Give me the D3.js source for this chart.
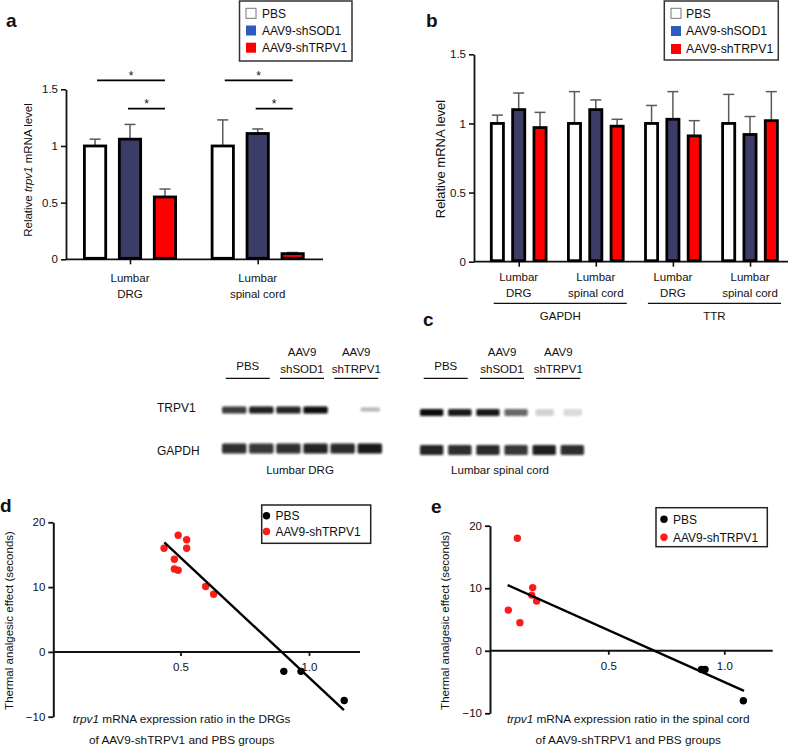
<!DOCTYPE html>
<html><head><meta charset="utf-8">
<script src="https://cdn.jsdelivr.net/npm/d3@7"></script>
<style>
body{margin:0;background:#fff}
svg{display:block}
text{font-family:"Liberation Sans",Arial,Helvetica,sans-serif;fill:#111}
</style>
</head><body><svg id="fig" width="794" height="746"></svg>
<script>
// ---------------- DATA ----------------
const seriesNames = ["PBS", "AAV9-shSOD1", "AAV9-shTRPV1"];
const barFill = ["#ffffff", "#3b3d66", "#ff0000"];
const legendFill = ["#ffffff", "#2d5cc0", "#ff0000"];

// panel a
const aGroups = [["Lumbar", "DRG"], ["Lumbar", "spinal cord"]];
const aMeans = [[1.00, 1.06, 0.55], [1.00, 1.11, 0.05]];
const aErr = [[0.06, 0.13, 0.07], [0.23, 0.04, 0.01]];
const aTicks = [0, 0.5, 1, 1.5];
const aTickLabels = ["0", "0.5", "1", "1.5"];
const aSig = [[0, 0, 2, 0], [0, 1, 2, 1], [1, 0, 2, 0], [1, 1, 2, 1]]; // group, fromSeries, toSeries, level

// panel b
const bGroups = [["Lumbar", "DRG"], ["Lumbar", "spinal cord"], ["Lumbar", "DRG"], ["Lumbar", "spinal cord"]];
const bGenes = ["GAPDH", "TTR"];
const bGeneGroups = [[0, 1], [2, 3]];
const bMeans = [[1.00, 1.10, 0.97], [1.00, 1.10, 0.98], [1.00, 1.03, 0.91], [1.00, 0.92, 1.02]];
const bErr = [[0.06, 0.12, 0.11], [0.23, 0.07, 0.05], [0.13, 0.20, 0.11], [0.21, 0.13, 0.21]];
const bTicks = [0, 0.5, 1, 1.5];
const bTickLabels = ["0", "0.5", "1", "1.5"];

// panel c (western blot band intensities, 2 lanes per group)
const blotTissues = ["Lumbar DRG", "Lumbar spinal cord"];
const blotGroups = [["PBS"], ["AAV9", "shSOD1"], ["AAV9", "shTRPV1"]];
const blotRows = ["TRPV1", "GAPDH"];
const trpv1Bands = [[0.80, 0.92, 0.90, 1.00, 0.00, 0.30], [1.00, 0.95, 0.95, 0.62, 0.18, 0.15]];
const gapdhBands = [[0.85, 0.82, 0.85, 0.90, 0.88, 0.95], [0.90, 0.86, 0.88, 0.82, 0.92, 0.86]];

// panel d
const dPBS = [[0.902, -3.0], [0.969, -3.0], [1.137, -7.5]];
const dTRPV1 = [[0.436, 16.0], [0.491, 18.0], [0.524, 17.3], [0.524, 16.0], [0.476, 14.3], [0.476, 12.8], [0.491, 12.6], [0.598, 10.1], [0.629, 8.9]];
const dFit = [[0.437, 16.9], [1.136, -9.0]];

// panel e
const ePBS = [[0.902, -3.0], [0.917, -3.0], [1.082, -8.0]];
const eTRPV1 = [[0.108, 18.0], [0.069, 6.5], [0.119, 4.5], [0.174, 10.1], [0.170, 8.9], [0.191, 7.95]];
const eFit = [[0.066, 10.5], [1.085, -6.4]];

const scatterYTicks = [-10, 0, 10, 20];
const scatterYTickLabels = ["\u221210", "0", "10", "20"];
const scatterXTicks = [0.5, 1.0];
const scatterXTickLabels = ["0.5", "1.0"];
const scatterSeries = ["PBS", "AAV9-shTRPV1"];
const scatterColors = ["#000000", "#ff1a1a"];

// ---------------- DRAW ----------------
const svg = d3.select("#fig");
const FS = 11.5;

function panelLabel(t, x, y) {
  svg.append("text").attr("x", x).attr("y", y).attr("font-size", 19).attr("font-weight", "bold").text(t);
}

function barLegend(x, y, w, h, sx, tx, rowY, fs) {
  const g = svg.append("g");
  g.append("rect").attr("x", x).attr("y", y).attr("width", w).attr("height", h)
    .attr("fill", "#fff").attr("stroke", "#333").attr("stroke-width", 1.5);
  seriesNames.forEach((s, i) => {
    g.append("rect").attr("x", sx).attr("y", rowY[i] - 5).attr("width", 10).attr("height", 10)
      .attr("fill", legendFill[i]).attr("stroke", i === 0 ? "#777" : "none").attr("stroke-width", 1);
    g.append("text").attr("x", tx).attr("y", rowY[i] + 4.3).attr("font-size", fs).text(s);
  });
}

function barPanel(opt) {
  const g = svg.append("g");
  const y = d3.scaleLinear().domain([0, 1.5]).range([opt.y0, opt.y15]);
  const x = d3.scalePoint().domain(d3.range(opt.groups.length)).range(opt.xCenters);
  const inner = d3.scaleBand().domain(d3.range(3)).range([-opt.half, opt.half]).paddingInner(opt.pad);
  const bw = inner.bandwidth();
  // y axis
  const ya = g.append("g").attr("transform", `translate(${opt.axisX},0)`)
    .call(d3.axisLeft(y).tickValues(opt.ticks).tickFormat((d, i) => opt.tickLabels[i]).tickSize(5).tickSizeOuter(0).tickPadding(3));
  ya.select(".domain").attr("stroke-width", 1.8).attr("stroke", "#111");
  ya.selectAll(".tick line").attr("stroke-width", 1.6).attr("stroke", "#111");
  ya.selectAll(".tick text").attr("font-size", FS).attr("font-family", "Liberation Sans, Arial, sans-serif").attr("fill", "#111");
  // x axis
  const xa = g.append("g").attr("transform", `translate(0,${opt.y0})`)
    .call(d3.axisBottom(x).tickSize(5).tickFormat(""));
  xa.select(".domain").remove();
  xa.selectAll(".tick line").attr("stroke-width", 1.6).attr("stroke", "#111");
  g.append("line").attr("x1", opt.axisX).attr("x2", opt.axisEnd).attr("y1", opt.y0).attr("y2", opt.y0)
    .attr("stroke", "#111").attr("stroke-width", 1.8);
  opt.groups.forEach((lbl, gi) => {
    lbl.forEach((l, li) => {
      g.append("text").attr("x", x(gi)).attr("y", opt.labelY + li * 15.5).attr("text-anchor", "middle")
        .attr("font-size", FS).text(l);
    });
    opt.means[gi].forEach((m, si) => {
      const bx = x(gi) + inner(si);
      const cx = bx + bw / 2;
      // error bar
      g.append("line").attr("x1", cx).attr("x2", cx).attr("y1", y(m)).attr("y2", y(m + opt.err[gi][si]))
        .attr("stroke", "#5a5a5a").attr("stroke-width", 1.5);
      g.append("line").attr("x1", cx - opt.cap).attr("x2", cx + opt.cap)
        .attr("y1", y(m + opt.err[gi][si])).attr("y2", y(m + opt.err[gi][si]))
        .attr("stroke", "#5a5a5a").attr("stroke-width", 1.5);
      g.append("rect").attr("x", bx + 1.4).attr("width", bw - 2.8)
        .attr("y", y(m)).attr("height", Math.max(0, y(0) - y(m) - 1))
        .attr("fill", barFill[si]).attr("stroke", "#000").attr("stroke-width", 2.8);
    });
  });
  // y label
  g.append("text").attr("transform", `translate(${opt.ylabX},${opt.ylabY}) rotate(-90)`)
    .attr("text-anchor", "middle").attr("font-size", opt.ylabFs).html(opt.ylab);
  return {x, y, inner, bw, g};
}

// ---- panel a ----
panelLabel("a", 6, 27);
barLegend(239.5, 1, 112.5, 60, 246, 262, [13.3, 30.5, 47.7], 12);
const A = barPanel({
  groups: aGroups, means: aMeans, err: aErr, ticks: aTicks, tickLabels: aTickLabels,
  y0: 259.3, y15: 89.3, xCenters: [130, 257.7], half: 47, pad: 0.31, axisX: 66, axisEnd: 323,
  labelY: 282, cap: 5.5, ylabX: 32, ylabY: 170, ylabFs: 11.5,
  ylab: 'Relative <tspan font-style="italic">trpv1</tspan> mRNA level'
});
aSig.forEach(([gi, s0, s1, lev]) => {
  const xa0 = A.x(gi) + A.inner(s0) + A.bw / 2 + (lev === 0 ? 2 : -2);
  const xa1 = A.x(gi) + A.inner(s1) + A.bw / 2;
  const ly = lev === 0 ? 80.3 : 108.7;
  A.g.append("line").attr("x1", xa0).attr("x2", xa1).attr("y1", ly).attr("y2", ly)
    .attr("stroke", "#000").attr("stroke-width", 1.8);
  A.g.append("text").attr("x", (xa0 + xa1) / 2).attr("y", ly - 0.5).attr("text-anchor", "middle")
    .attr("font-size", 12).text("*");
});

// ---- panel b ----
panelLabel("b", 426, 27);
barLegend(664.3, 1, 114, 59, 671, 686, [13.3, 31, 49], 12.3);
const B = barPanel({
  groups: bGroups, means: bMeans, err: bErr, ticks: bTicks, tickLabels: bTickLabels,
  y0: 261.7, y15: 54.3, xCenters: [518.7, 750], half: 28.8, pad: 0.3, axisX: 474, axisEnd: 788,
  labelY: 281, cap: 5.5, ylabX: 445, ylabY: 159, ylabFs: 13,
  ylab: 'Relative mRNA level'
});
bGenes.forEach((gn, i) => {
  const [g0, g1] = bGeneGroups[i];
  const x0 = B.x(g0) - 25, x1 = B.x(g1) + 31;
  B.g.append("line").attr("x1", x0).attr("x2", x1).attr("y1", 303.3).attr("y2", 303.3)
    .attr("stroke", "#111").attr("stroke-width", 1.3);
  B.g.append("text").attr("x", (x0 + x1) / 2).attr("y", 319.5).attr("text-anchor", "middle")
    .attr("font-size", FS).text(gn);
});

// ---- panel c (blot) ----
panelLabel("c", 423, 326);
const defs = svg.append("defs");
defs.append("filter").attr("id", "blur").attr("x", "-20%").attr("y", "-60%").attr("width", "140%").attr("height", "220%")
  .append("feGaussianBlur").attr("stdDeviation", 0.9);
const laneScales = [
  d3.scaleBand().domain(d3.range(6)).range([222, 382]).paddingInner(0.1),
  d3.scaleBand().domain(d3.range(6)).range([420, 584]).paddingInner(0.17)
];
const rowY = [[410, 448.5], [412.5, 450]];
const bandH = [7, 10];
blotRows.forEach((r, i) => {
  svg.append("text").attr("x", 157).attr("y", [411.8, 454.5][i]).attr("font-size", 12).text(r);
});
blotTissues.forEach((t, ti) => {
  const L = laneScales[ti];
  const bw = L.bandwidth();
  blotGroups.forEach((gl, gi) => {
    const cx = (L(gi * 2) + L(gi * 2 + 1) + bw) / 2;
    svg.append("line").attr("x1", cx - 22).attr("x2", cx + 22).attr("y1", 378.3).attr("y2", 378.3)
      .attr("stroke", "#111").attr("stroke-width", 1.3);
    gl.forEach((l, li) => {
      const yy = gl.length === 1 ? 369.5 : 356 + li * 16.5;
      svg.append("text").attr("x", cx).attr("y", yy).attr("text-anchor", "middle").attr("font-size", FS).text(l);
    });
  });
  [trpv1Bands[ti], gapdhBands[ti]].forEach((bands, ri) => {
    bands.forEach((v, li) => {
      if (v <= 0) return;
      const faint = ri === 0 && v < 0.5;
      svg.append("rect").attr("x", L(li) + (faint ? 3 : 0)).attr("width", bw - (faint ? 5 : 0))
        .attr("y", rowY[ti][ri] - bandH[ri] / 2 + (faint && ti === 0 ? 1 : 0)).attr("height", bandH[ri] - (faint && ti === 0 ? 3 : 0))
        .attr("rx", 1.5).attr("fill", "#0c0c0c").attr("opacity", v)
        .attr("filter", "url(#blur)");
    });
  });
  svg.append("text").attr("x", (L(0) + L(5) + bw) / 2 - 2).attr("y", 474).attr("text-anchor", "middle")
    .attr("font-size", FS).text(t);
});

// ---- scatter panels ----
function scatterPanel(opt) {
  const g = svg.append("g");
  const x = d3.scaleLinear().domain([0, 1.2]).range(opt.xr);
  const y = d3.scaleLinear().domain([-10, 20]).range(opt.yr);
  const ya = g.append("g").attr("transform", `translate(${opt.axisX},0)`)
    .call(d3.axisLeft(y).tickValues(scatterYTicks).tickFormat((d, i) => scatterYTickLabels[i]).tickSize(5).tickSizeOuter(0).tickPadding(3));
  ya.select(".domain").attr("stroke-width", 2).attr("stroke", "#111");
  ya.selectAll(".tick line").attr("stroke-width", 1.8).attr("stroke", "#111");
  ya.selectAll(".tick text").attr("font-size", FS).attr("font-family", "Liberation Sans, Arial, sans-serif").attr("fill", "#111");
  g.append("line").attr("x1", opt.axisX).attr("x2", opt.axisEnd).attr("y1", y(0)).attr("y2", y(0))
    .attr("stroke", "#111").attr("stroke-width", 2);
  const xa = g.append("g").attr("transform", `translate(0,${y(0)})`)
    .call(d3.axisBottom(x).tickValues(scatterXTicks).tickFormat((d, i) => scatterXTickLabels[i]).tickSize(4).tickPadding(7));
  xa.select(".domain").remove();
  xa.selectAll(".tick line").attr("stroke-width", 1.8).attr("stroke", "#111");
  xa.selectAll(".tick text").attr("font-size", FS).attr("font-family", "Liberation Sans, Arial, sans-serif").attr("fill", "#111");
  [opt.pbs, opt.trpv1].forEach((pts, si) => {
    g.selectAll(null).data(pts).enter().append("circle")
      .attr("cx", d => x(d[0])).attr("cy", d => y(d[1])).attr("r", 3.7).attr("fill", scatterColors[si]);
  });
  g.append("path").attr("d", d3.line().x(d => x(d[0])).y(d => y(d[1]))(opt.fit))
    .attr("stroke", "#000").attr("stroke-width", 2.4).attr("fill", "none");
  // legend
  g.append("rect").attr("x", opt.lg[0]).attr("y", opt.lg[1]).attr("width", opt.lg[2]).attr("height", opt.lg[3])
    .attr("fill", "none").attr("stroke", "#222").attr("stroke-width", 1.5);
  scatterSeries.forEach((s, i) => {
    const yy = opt.lgRows[i];
    g.append("circle").attr("cx", opt.lgDot).attr("cy", yy).attr("r", 3.7).attr("fill", scatterColors[i]);
    g.append("text").attr("x", opt.lgDot + 9).attr("y", yy + 4.3).attr("font-size", 12).text(s);
  });
  g.append("text").attr("transform", `translate(${opt.ylabX},${(opt.yr[0] + opt.yr[1]) / 2 + 1}) rotate(-90)`)
    .attr("text-anchor", "middle").attr("font-size", FS).text("Thermal analgesic effect (seconds)");
  g.append("text").attr("x", opt.xlabX).attr("y", 723).attr("text-anchor", "middle").attr("font-size", 11.8)
    .html(`<tspan font-style="italic">trpv1</tspan> mRNA expression ratio in ${opt.tissue}`);
  g.append("text").attr("x", opt.xlabX).attr("y", 744).attr("text-anchor", "middle").attr("font-size", 11.8)
    .text("of AAV9-shTRPV1 and PBS groups");
}

panelLabel("d", 0, 512);
scatterPanel({
  xr: [52, 360.4], yr: [716.7, 522.3], axisX: 53.3, axisEnd: 360,
  pbs: dPBS, trpv1: dTRPV1, fit: dFit,
  lg: [261.7, 505, 109, 38.3], lgRows: [515.7, 531.5], lgDot: 266.5,
  ylabX: 13, xlabX: 181.7, tissue: "the DRGs"
});
panelLabel("e", 431, 513);
scatterPanel({
  xr: [492.3, 770.7], yr: [713.3, 525.7], axisX: 490, axisEnd: 772.7,
  pbs: ePBS, trpv1: eTRPV1, fit: eFit,
  lg: [656, 507.7, 111.3, 39], lgRows: [519.3, 537.3], lgDot: 664,
  ylabX: 448.5, xlabX: 628.3, tissue: "the spinal cord"
});
</script>
</body></html>
